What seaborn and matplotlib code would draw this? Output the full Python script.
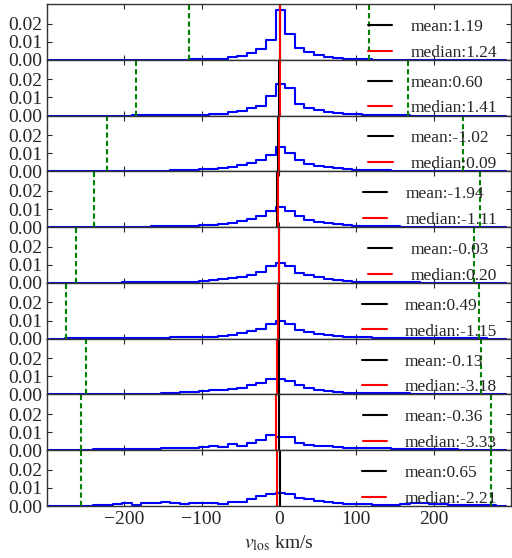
import numpy as np
import pandas as pd
import matplotlib
matplotlib.use("Agg")
import matplotlib.pyplot as plt
import seaborn as sns

# ---- data ----
bin_start = -4.3      # km/s, left edge of the central bin
bin_width = 12.4      # km/s
k_min, k_max = -24, 23

p1_start = -9
p1_vals = [0.0002, 0.0003, 0.0004, 0.0007, 0.0015, 0.0022, 0.0037, 0.0059, 0.0108,
           0.0277, 0.0145, 0.0064, 0.0042, 0.0026, 0.0018, 0.0011, 0.0006, 0.0004, 0.0002]
p2_start = -15
p2_vals = [0.0001, 0.0001, 0.0002, 0.0002, 0.0003, 0.0003, 0.0004, 0.0005, 0.0007,
           0.0011, 0.0017, 0.0024, 0.0039, 0.0053, 0.0106, 0.0174, 0.0154, 0.0066,
           0.0042, 0.0029, 0.0020, 0.0015, 0.0011, 0.0007, 0.0005, 0.0004, 0.0003,
           0.0002, 0.0001]
p3_start = -18
p3_vals = [0.0001, 0.0001, 0.0002, 0.0002, 0.0003, 0.0003, 0.0004, 0.0005, 0.0006,
           0.0007, 0.0011, 0.0015, 0.0020, 0.0026, 0.0035, 0.0046, 0.0064, 0.0090,
           0.0132, 0.0099, 0.0061, 0.0040, 0.0031, 0.0024, 0.0018, 0.0013, 0.0009,
           0.0007, 0.0006, 0.0005, 0.0004, 0.0003, 0.0003, 0.0002, 0.0002, 0.0001,
           0.0001, 0.0001]
p4_start = -19
p4_vals = [0.0001, 0.0001, 0.0002, 0.0002, 0.0003, 0.0003, 0.0004, 0.0005, 0.0006,
           0.0007, 0.0008, 0.0009, 0.0013, 0.0018, 0.0024, 0.0033, 0.0044, 0.0064,
           0.0090, 0.0110, 0.0088, 0.0059, 0.0040, 0.0028, 0.0020, 0.0015, 0.0011,
           0.0007, 0.0006, 0.0005, 0.0004, 0.0004, 0.0003, 0.0003, 0.0002, 0.0002,
           0.0001, 0.0001, 0.0001, 0.0001, 0.0001]
p5_start = -21
p5_vals = [0.0001, 0.0001, 0.0001, 0.0002, 0.0002, 0.0003, 0.0003, 0.0004, 0.0005,
           0.0005, 0.0006, 0.0007, 0.0007, 0.0011, 0.0015, 0.0020, 0.0026, 0.0035,
           0.0046, 0.0062, 0.0092, 0.0112, 0.0092, 0.0057, 0.0042, 0.0031, 0.0022,
           0.0017, 0.0011, 0.0007, 0.0006, 0.0005, 0.0004, 0.0004, 0.0003, 0.0003,
           0.0002, 0.0002, 0.0001, 0.0001, 0.0001, 0.0001]
p6_start = -22
p6_vals = [0.0001, 0.0001, 0.0001, 0.0002, 0.0002, 0.0003, 0.0003, 0.0004, 0.0004,
           0.0005, 0.0006, 0.0007, 0.0008, 0.0009, 0.0010, 0.0011, 0.0017, 0.0022,
           0.0029, 0.0040, 0.0053, 0.0083, 0.0097, 0.0081, 0.0050, 0.0037, 0.0028,
           0.0020, 0.0015, 0.0011, 0.0009, 0.0007, 0.0006, 0.0005, 0.0004, 0.0004,
           0.0003, 0.0003, 0.0002, 0.0002, 0.0001, 0.0001, 0.0001, 0.0001]
p7_start = -20
p7_vals = [0.0001, 0.0002, 0.0002, 0.0003, 0.0003, 0.0004, 0.0005, 0.0005, 0.0006,
           0.0007, 0.0011, 0.0015, 0.0018, 0.0022, 0.0026, 0.0031, 0.0037, 0.0050,
           0.0061, 0.0083, 0.0088, 0.0077, 0.0053, 0.0035, 0.0024, 0.0017, 0.0013,
           0.0009, 0.0008, 0.0008, 0.0007, 0.0007, 0.0006, 0.0006, 0.0005, 0.0005,
           0.0004, 0.0004, 0.0003, 0.0003, 0.0002, 0.0002]
p8_start = -21
p8_vals = [0.0002, 0.0003, 0.0004, 0.0005, 0.0006, 0.0006, 0.0007, 0.0007, 0.0007,
           0.0015, 0.0015, 0.0015, 0.0015, 0.0017, 0.0026, 0.0020, 0.0035, 0.0026,
           0.0042, 0.0057, 0.0086, 0.0072, 0.0072, 0.0040, 0.0028, 0.0022, 0.0022,
           0.0017, 0.0015, 0.0015, 0.0012, 0.0010, 0.0010, 0.0008, 0.0007, 0.0006,
           0.0006, 0.0005, 0.0005, 0.0004, 0.0003, 0.0003, 0.0002, 0.0002]
p9_start = -21
p9_vals = [0.0001, 0.0002, 0.0007, 0.0007, 0.0011, 0.0017, 0.0006, 0.0017, 0.0017,
           0.0022, 0.0017, 0.0009, 0.0018, 0.0015, 0.0015, 0.0011, 0.0020, 0.0024,
           0.0040, 0.0057, 0.0066, 0.0070, 0.0066, 0.0042, 0.0039, 0.0026, 0.0020,
           0.0015, 0.0011, 0.0013, 0.0010, 0.0006, 0.0005, 0.0005, 0.0012, 0.0014,
           0.0014, 0.0012, 0.0009, 0.0008, 0.0007, 0.0006, 0.0005, 0.0003]

panel_starts = [p1_start, p2_start, p3_start, p4_start, p5_start, p6_start, p7_start, p8_start, p9_start]
panel_vals = [p1_vals, p2_vals, p3_vals, p4_vals, p5_vals, p6_vals, p7_vals, p8_vals, p9_vals]

means = [1.19, 0.60, -1.02, -1.94, -0.03, 0.49, -0.13, -0.36, 0.65]
medians = [1.24, 1.41, 0.09, -1.11, 0.20, -1.15, -3.18, -3.33, -2.21]
lo_lines = [-116, -185, -223, -239, -262, -276, -249, -256, -256]
hi_lines = [116, 167, 238, 260, 252, 259, 261, 274, 274]

xticks = [-200, -100, 0, 100, 200]
yticks = [0.00, 0.01, 0.02]
xlabel = r"$v_{\rm los}$ km/s"

# ---- style ----
sns.set_style("ticks")
plt.rcParams.update({
    "font.family": ["Liberation Serif", "DejaVu Serif"],
    "mathtext.fontset": "stix",
    "xtick.direction": "in",
    "ytick.direction": "in",
    "xtick.top": True,
    "ytick.right": True,
    "xtick.major.size": 3.5,
    "ytick.major.size": 3.5,
    "axes.edgecolor": "0.2",
    "axes.linewidth": 1.0,
})

ks = np.arange(k_min, k_max + 1)
edges = (bin_start + bin_width * np.arange(k_min, k_max + 2)).tolist()
centers = bin_start + bin_width * (ks + 0.5)

fig = plt.figure(figsize=(5.12, 5.58), dpi=100)
axes = fig.subplots(9, 1, sharex=True)
fig.subplots_adjust(left=47 / 512, right=511 / 512, top=1 - 4 / 558,
                    bottom=1 - 506 / 558, hspace=0)

for i, ax in enumerate(axes):
    w = np.zeros(len(ks))
    s = panel_starts[i] - k_min
    w[s:s + len(panel_vals[i])] = panel_vals[i]
    df = pd.DataFrame({"v": centers, "w": w})
    sns.histplot(data=df, x="v", weights="w", bins=edges, element="step",
                 fill=False, color="blue", linewidth=1.5, ax=ax)
    ax.axvline(means[i], color="black", lw=1.5, label=f"mean:{means[i]:.2f}")
    ax.axvline(medians[i], color="red", lw=1.5, label=f"median:{medians[i]:.2f}")
    for xv in (lo_lines[i], hi_lines[i]):
        ax.axvline(xv, color="green", lw=1.5, ls=(0, (2.5, 1.5)))
    ax.set_xlim(-300, 300)
    ax.set_ylim(0, 0.0308)
    ax.set_yticks(yticks)
    ax.set_yticklabels([f"{t:.2f}" for t in yticks])
    ax.set_ylabel("")
    ax.set_xlabel("")
    ax.tick_params(labelsize=14)
    ax.legend(loc="center right", bbox_to_anchor=(0.970, 0.36), frameon=False,
              fontsize=12.5, borderpad=0, borderaxespad=0, handlelength=1.4,
              handletextpad=1.05, labelspacing=0.55)

axes[-1].set_xticks(xticks)
axes[-1].set_xlabel(xlabel, fontsize=14, labelpad=4)

fig.savefig("out.png", dpi=100)
